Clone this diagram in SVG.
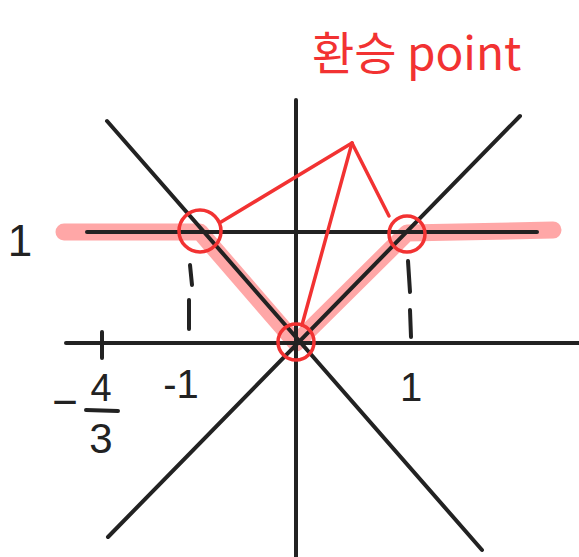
<svg xmlns="http://www.w3.org/2000/svg" width="579" height="557" viewBox="0 0 579 557">
<style>
.ax{stroke:#222;stroke-width:4;stroke-linecap:round;fill:none}
.dash{stroke:#222;stroke-width:4;stroke-linecap:round}
.red{stroke:#f23232;stroke-width:3.5;fill:none;stroke-linecap:round}
.hl{stroke:#ff8a8a;stroke-opacity:0.75;stroke-width:17;fill:none;stroke-linecap:round;stroke-linejoin:round}
.lab{font-family:"Liberation Sans","Noto Sans",sans-serif;fill:#222}
.title{font-family:"Noto Sans CJK KR","Noto Sans",sans-serif;fill:#f23232}
</style>
<rect width="579" height="557" fill="#fff"/>
<g id="highlight">
<polyline class="hl" points="64,232 200,232 296,343 407,233 553,230"/>
</g>
<g id="axes">
<line class="ax" x1="296" y1="100" x2="296" y2="557"/>
<line class="ax" x1="66" y1="343" x2="579" y2="343"/>
<line class="ax" x1="87" y1="232" x2="537" y2="232"/>
<line class="ax" x1="107" y1="121" x2="482" y2="550"/>
<line class="ax" x1="520" y1="116" x2="108" y2="537"/>
<line class="ax" x1="102" y1="332" x2="102" y2="358"/>
</g>
<g id="dashes">
<line class="dash" x1="190" y1="265" x2="192" y2="285"/>
<line class="dash" x1="189" y1="300" x2="189" y2="329"/>
<line class="dash" x1="408" y1="261" x2="410" y2="292"/>
<line class="dash" x1="410" y1="310" x2="411" y2="337"/>
</g>
<g id="connectors">
<line class="red" x1="352" y1="143" x2="221" y2="222"/>
<line class="red" x1="352" y1="143" x2="389" y2="216"/>
<line class="red" x1="352" y1="143" x2="302" y2="325"/>
</g>
<g id="point-left"><circle class="red" cx="200" cy="231" r="21"/></g>
<g id="point-right"><circle class="red" cx="407" cy="234" r="18"/></g>
<g id="point-center"><circle class="red" cx="296" cy="342" r="18"/></g>
<g id="labels">
<text class="lab" x="20" y="256" font-size="44" text-anchor="middle">1</text>
<text class="lab" x="181" y="398" font-size="40" text-anchor="middle">-1</text>
<text class="lab" x="411" y="401" font-size="40" text-anchor="middle">1</text>
<text class="lab" x="65" y="417" font-size="44" text-anchor="middle">−</text>
<text class="lab" x="101" y="401" font-size="38" text-anchor="middle">4</text>
<line class="dash" x1="86" y1="410" x2="118" y2="411"/>
<text class="lab" x="101" y="453" font-size="42" text-anchor="middle">3</text>
<text class="title" x="312" y="70" font-size="46">환승 point</text>
</g>
</svg>
